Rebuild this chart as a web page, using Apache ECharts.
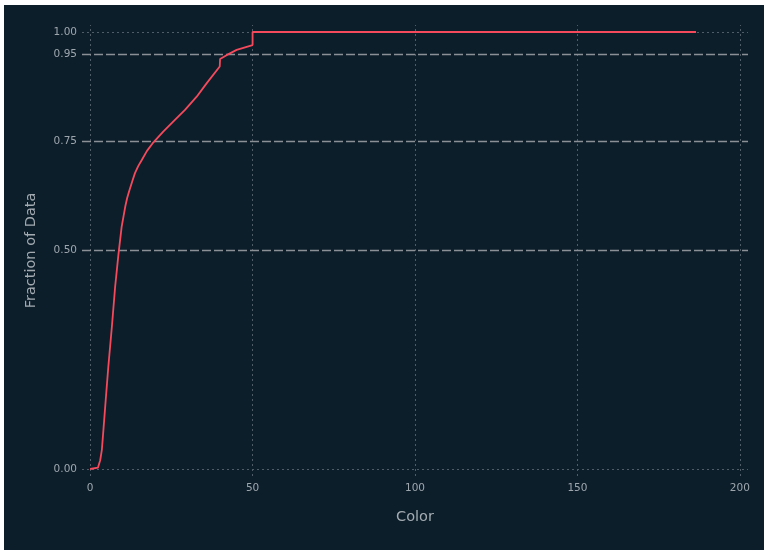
<!DOCTYPE html>
<html>
<head>
<meta charset="utf-8">
<script src="https://cdn.jsdelivr.net/npm/echarts@6/dist/echarts.min.js"></script>
<style>
  html, body { margin: 0; padding: 0; background: #ffffff; }
  #chart { position: absolute; left: 4px; top: 5px; width: 760px; height: 545px; background: #0d1e2b; }
</style>
</head>
<body>
<div id="chart"></div>
<script>
// CDF of Color
var colorValues = [0, 2.4, 3.1, 3.6, 4.1, 4.8, 5.6, 6.7, 7.7, 8.7, 9.7, 10.8, 11.4, 12.1, 13.0, 13.8, 14.8, 15.9, 17.5, 19.2, 22.5, 26.1, 29.2, 32.8, 35.9, 39.9, 40.0, 42.0, 45.1, 48.2, 50.0, 50.0, 186.5];
var fractionValues = [0, 0.003, 0.02, 0.043, 0.09, 0.158, 0.234, 0.326, 0.417, 0.49, 0.554, 0.6, 0.62, 0.638, 0.659, 0.677, 0.693, 0.707, 0.728, 0.745, 0.772, 0.799, 0.822, 0.852, 0.883, 0.921, 0.938, 0.947, 0.959, 0.966, 0.970, 1.0, 1.0];

var xTicks = [0, 50, 100, 150, 200];
var yTicks = [0, 0.5, 0.75, 0.95, 1];
var dashedRefs = [0.5, 0.75, 0.95];  // dashed reference lines
var dottedRefs = [0, 1];             // dotted like the grid

var chart = echarts.init(document.getElementById('chart'));

var labelColor = '#9ea6ad';
var gridColor = '#4f5d68';

var option = {
  backgroundColor: '#0d1e2b',
  animation: false,
  grid: { left: 78, right: 16, top: 20, bottom: 74 },
  xAxis: {
    type: 'value',
    min: -2.5,
    max: 202.5,
    name: 'Color',
    nameLocation: 'middle',
    nameGap: 34,
    nameTextStyle: { color: '#a3abb1', fontSize: 14.5, fontFamily: 'DejaVu Sans' },
    axisLine: { show: false },
    axisTick: { show: false },
    splitLine: { show: false },
    axisLabel: {
      customValues: xTicks,
      color: labelColor,
      fontSize: 10.5,
      fontFamily: 'DejaVu Sans',
      margin: 7
    }
  },
  yAxis: {
    type: 'value',
    min: -0.016,
    max: 1.016,
    name: 'Fraction of Data',
    nameLocation: 'middle',
    nameGap: 43,
    nameTextStyle: { color: '#a3abb1', fontSize: 14.5, fontFamily: 'DejaVu Sans' },
    axisLine: { show: false },
    axisTick: { show: false },
    splitLine: { show: false },
    axisLabel: {
      customValues: yTicks,
      color: labelColor,
      fontSize: 10.5,
      fontFamily: 'DejaVu Sans',
      margin: 5,
      formatter: function (v) { return v.toFixed(2); }
    }
  },
  series: [
    {
      name: 'grid',
      type: 'line',
      data: [],
      z: 1,
      silent: true,
      markLine: {
        silent: true,
        symbol: 'none',
        label: { show: false },
        animation: false,
        lineStyle: { color: gridColor, width: 1, type: [2, 3] },
        data: xTicks.map(function (v) { return { xAxis: v }; })
          .concat(dottedRefs.map(function (v) { return { yAxis: v }; }))
      }
    },
    {
      name: 'refs',
      type: 'line',
      data: [],
      z: 2,
      silent: true,
      markLine: {
        silent: true,
        symbol: 'none',
        label: { show: false },
        animation: false,
        lineStyle: { color: '#8a9096', width: 1.3, type: [9, 3] },
        data: dashedRefs.map(function (v) { return { yAxis: v }; })
      }
    },
    {
      name: 'Color',
      type: 'line',
      z: 5,
      showSymbol: false,
      data: colorValues.map(function (c, i) { return [c, fractionValues[i]]; }),
      lineStyle: { color: '#f44a5c', width: 1.8 },
      itemStyle: { color: '#f44a5c' }
    }
  ]
};

chart.setOption(option);
</script>
</body>
</html>
